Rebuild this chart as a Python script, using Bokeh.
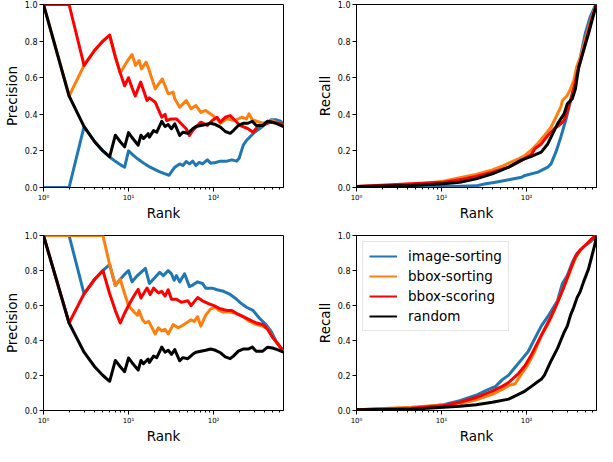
from bokeh.plotting import figure
from bokeh.models import Range1d, FixedTicker, PrintfTickFormatter, Legend, LegendItem
from bokeh.layouts import row, column
from bokeh.embed import file_html
from bokeh.resources import INLINE

# ---------------- data ----------------
XMAX = 665
series_names = ["image-sorting", "bbox-sorting", "bbox-scoring", "random"]
series_colors = ["#1f77b4", "#ff7f0e", "#ff0000", "#000000"]
x_major_ticks = [1, 10, 100]
x_tick_labels = ["10\u2070", "10\u00b9", "10\u00b2"]
x_minor_ticks = [2, 3, 4, 5, 6, 7, 8, 9, 20, 30, 40, 50, 60, 70, 80, 90, 200, 300, 400, 500, 600]
y_ticks = [0.0, 0.2, 0.4, 0.6, 0.8, 1.0]

# random baseline precision (same in both precision panels)
random_prec_rank = [1, 2, 3, 4, 5, 6, 7, 8, 9, 10, 11, 13, 14, 15, 17, 17.6, 19.7, 21.5, 24.6, 26.9, 29.3, 32, 35, 40,
                    43.6, 49.8, 56.9, 62.1, 70.9, 80.9, 92.4, 105.4, 120.4, 137.4, 156.8, 171.3, 195.6, 223.2, 254.7,
                    285.8, 317.6, 379, 432.5, 493.7, 563.6, 665]
random_prec = [1, .5, .333, .25, .2, .167, .286, .25, .222, .3, .273, .231, .286, .267, .294, .275, .311, .302, .362,
               .333, .344, .321, .348, .284, .302, .296, .321, .333, .339, .344, .351, .344, .33, .306, .296, .311,
               .339, .351, .351, .362, .339, .339, .362, .357, .348, .333]

# top-left: precision
tl_img_rank = [1, 2, 3, 4, 5, 6, 7, 8, 9, 10, 11, 12, 13, 14, 16, 18, 20, 23, 26, 30, 35, 40, 43.6, 47.7, 52.1, 56.9,
               62.1, 67.8, 74.1, 84.6, 92.4, 105.4, 120.4, 143.6, 163.9, 187.1, 200, 223.2, 243.8, 278.3, 304, 346.9,
               414, 472.5, 539.4, 615.7, 665]
tl_img_prec = [0, 0, .333, .25, .2, .167, .143, .125, .111, .2, .182, .167, .154, .143, .125, .111, .1, .087, .077,
               .067, .111, .129, .12, .142, .129, .144, .12, .137, .129, .151, .133, .137, .144, .144, .151, .144, .16,
               .23, .257, .284, .302, .321, .348, .37, .37, .362, .344]
tl_bsort_rank = [1, 2, 3, 4, 5, 6, 7, 8, 9, 10, 11, 12.1, 13.3, 14.2, 16.1, 17.3, 20.6, 25, 29.3, 33.5, 35, 40, 47.7,
                 54.4, 62.1, 70.9, 80.9, 92.4, 110.2, 120.4, 143.6, 179, 213.5, 243.8, 261.6, 285.8, 379, 493.7, 665]
tl_bsort_prec = [1, .5, .667, .75, .8, .833, .714, .625, .667, .7, .727, .667, .694, .648, .685, .648, .539, .593,
                 .512, .521, .485, .439, .475, .43, .448, .41, .421, .402, .375, .351, .375, .366, .384, .375, .402,
                 .37, .351, .366, .339]
tl_bscore_rank = [1, 2, 3, 4, 5, 6, 7, 8, 9, 10, 11, 12, 13.9, 16.5, 17.6, 20.6, 24.6, 26.9, 28.1, 32, 36.6, 41.8,
                  47.7, 52.1, 56.9, 64.9, 70.9, 84.6, 96.5, 110.2, 120.4, 137.4, 156.8, 179, 204.3, 254.7, 290.8, 332,
                  414, 472.5, 563.6, 665]
tl_bscore_prec = [1, 1, .667, .75, .8, .833, .714, .625, .556, .6, .545, .5, .576, .475, .49, .466, .384, .40, .366,
                  .375, .375, .348, .321, .284, .312, .339, .357, .339, .366, .384, .357, .384, .393, .366, .339, .321,
                  .302, .333, .348, .357, .351, .344]

# top-right: recall
tr_img_rank = [1, 3, 16.4, 25.5, 33.2, 43.3, 61.6, 87.7, 95.8, 136.3, 177.6, 194, 221.4, 252.7, 288.5, 329.3, 375.9,
               429.1, 489.8, 559, 638, 665]
tr_img_rec = [0, .004, .007, .009, .02, .029, .042, .056, .066, .084, .111, .129, .193, .275, .366, .475, .585, .712,
              .84, .931, .99, 1.0]
tr_bsort_rank = [1, 4.4, 10.55, 16.4, 25.5, 39.6, 51.6, 61.6, 80.3, 95.8, 114.2, 136.3, 162.6, 194, 221.4, 252.7,
                 264.1, 301.5, 329.3, 359.7, 392.9, 429.1, 512, 611, 665]
tr_bsort_rec = [.005, .015, .034, .053, .071, .096, .116, .133, .157, .175, .206, .242, .284, .33, .384, .439, .475,
                .503, .539, .585, .667, .712, .84, .958, 1.0]
tr_bscore_rank = [1, 4.4, 10.55, 16.4, 25.5, 39.6, 61.6, 87.7, 114.2, 124.8, 148.9, 177.6, 211.9, 252.7, 276, 301.5,
                  329.3, 359.7, 392.9, 429.1, 512, 611, 665]
tr_bscore_rec = [.005, .02, .029, .042, .06, .084, .111, .148, .181, .211, .238, .284, .321, .348, .366, .421, .475,
                 .539, .621, .685, .822, .95, 1.0]
tr_rand_rank = [1, 4.4, 10.55, 16.4, 25.5, 39.6, 61.6, 87.7, 114.2, 148.9, 177.6, 202.7, 231.4, 276, 301.5, 344.2,
                375.9, 410.6, 468.8, 535, 611, 665]
tr_rand_rec = [.005, .011, .02, .029, .047, .075, .111, .151, .17, .193, .238, .293, .348, .402, .457, .484, .539,
               .658, .749, .84, .94, 1.0]

# bottom-left: precision
bl_img_rank = [1, 2, 3, 4, 5, 6, 7, 8, 9, 10, 11, 12.7, 15.8, 17.6, 20.6, 23.3, 25.6, 29.3, 32, 34.4, 36.6, 40, 45.6,
               52.1, 56.9, 64.9, 74.1, 80.9, 96.5, 110, 131, 157, 187, 204, 244, 291, 347, 414, 472, 539, 640, 665]
bl_img_prec = [1, 1, .667, .75, .8, .833, .714, .75, .778, .8, .735, .771, .812, .726, .762, .79, .771, .799, .781,
               .744, .771, .735, .781, .708, .717, .735, .726, .699, .699, .69, .681, .663, .636, .618, .59, .572,
               .527, .491, .455, .4, .346, .34]
bl_bsort_rank = [1, 2, 3, 4, 5, 6, 7, 8, 9, 10, 11.6, 12.7, 13.3, 14.6, 15.8, 17.3, 20.6, 22.5, 24.6, 26.9, 29.3, 33.5,
                 38.3, 41.8, 47.7, 54.4, 59.4, 64.9, 70.9, 80.9, 92.4, 105.4, 115, 131, 157, 187, 223, 266, 318, 379,
                 432, 494, 665]
bl_bsort_prec = [1, 1, 1, 1, 1, .833, .714, .75, .667, .6, .563, .545, .572, .518, .5, .509, .437, .473, .455, .464,
                 .437, .491, .473, .482, .5, .518, .509, .536, .482, .545, .581, .59, .572, .563, .563, .554, .536,
                 .509, .491, .482, .468, .419, .34]
bl_bscore_rank = [1, 2, 3, 4, 5, 6, 7, 8, 9, 10, 11, 12, 13, 14, 16.5, 18, 19.7, 22.5, 24.6, 26.9, 29.3, 32, 36.6,
                  41.8, 49.8, 54.4, 64.9, 74.1, 88.5, 100.9, 120, 143.6, 164, 187, 223, 266, 318, 379, 432, 494, 564,
                  665]
bl_bscore_prec = [1, .5, .667, .75, .8, .667, .571, .5, .556, .6, .636, .667, .692, .643, .70, .663, .699, .672, .681,
                  .654, .69, .636, .636, .618, .627, .599, .645, .627, .609, .599, .581, .572, .572, .554, .536, .518,
                  .50, .491, .464, .419, .383, .34]

# bottom-right: recall
br_img_rank = [1, 4.4, 10.55, 16.4, 25.5, 33.2, 43.3, 51.6, 61.6, 73.5, 87.7, 104.6, 124.8, 148.9, 177.6, 202.7,
               231.4, 264.1, 301.5, 344.2, 392.9, 468.8, 559, 665]
br_img_rec = [.004, .013, .033, .056, .087, .114, .138, .175, .202, .247, .292, .337, .41, .482, .536, .581, .627,
              .726, .771, .844, .898, .935, .962, 1.0]
br_bsort_rank = [1, 4.4, 16.4, 25.5, 39.6, 51.6, 61.6, 73.5, 87.7, 104.6, 124.8, 148.9, 177.6, 211.9, 252.7, 301.5,
                 344.2, 375.9, 429.1, 512, 611, 665]
br_bsort_rec = [.004, .018, .038, .061, .092, .12, .142, .153, .211, .265, .337, .428, .491, .572, .663, .753, .826,
                .871, .917, .953, .989, 1.0]
br_bscore_rank = [1, 4.4, 10.55, 16.4, 25.5, 39.6, 51.6, 61.6, 80.3, 95.8, 114.2, 136.3, 162.6, 194, 231.4, 276,
                  329.3, 375.9, 429.1, 512, 611, 665]
br_bscore_rec = [.004, .013, .029, .047, .074, .111, .138, .16, .211, .256, .319, .392, .464, .536, .618, .708, .808,
                 .88, .917, .953, .989, 1.0]
br_rand_rank = [1, 4.4, 10.55, 16.4, 25.5, 39.6, 61.6, 80.3, 95.8, 114.2, 136.3, 148.9, 162.6, 194, 231.4, 276,
                301.5, 329.3, 359.7, 392.9, 429.1, 468.8, 535, 585, 640, 665]
br_rand_rec = [.004, .007, .018, .024, .033, .047, .065, .092, .111, .138, .166, .178, .202, .283, .355, .446, .482,
               .545, .591, .645, .681, .735, .808, .88, .953, 1.0]

FONT = "DejaVu Sans"


def make_fig(width, height, mbl, mbr, mbt, mbb, ylabel):
    p = figure(width=width, height=height, x_axis_type="log",
               x_range=Range1d(1, XMAX), y_range=Range1d(0, 1),
               output_backend="svg", toolbar_location=None,
               min_border_left=mbl, min_border_right=mbr,
               min_border_top=mbt, min_border_bottom=mbb)
    p.grid.visible = False
    p.background_fill_color = "white"
    p.border_fill_color = "white"
    p.outline_line_color = "black"
    p.outline_line_width = 1
    p.outline_line_alpha = 1

    xa = p.xaxis[0]
    xa.ticker = FixedTicker(ticks=x_major_ticks, minor_ticks=x_minor_ticks)
    xa.major_label_overrides = {t: lab for t, lab in zip(x_major_ticks, x_tick_labels)}
    xa.major_label_text_font_size = "7px"
    xa.major_label_text_font = FONT
    xa.major_label_text_color = "black"
    xa.major_label_standoff = 2
    xa.major_tick_out = 4
    xa.major_tick_in = 0
    xa.minor_tick_out = 2
    xa.minor_tick_in = 0
    xa.axis_line_color = "black"
    xa.major_tick_line_color = "black"
    xa.minor_tick_line_color = "black"
    xa.axis_label = "Rank"
    xa.axis_label_text_font = FONT
    xa.axis_label_text_font_size = "13.5px"
    xa.axis_label_text_font_style = "normal"
    xa.axis_label_text_color = "black"
    xa.axis_label_standoff = 0

    ya = p.yaxis[0]
    ya.ticker = FixedTicker(ticks=y_ticks)
    ya.formatter = PrintfTickFormatter(format="%.1f")
    ya.major_label_text_font_size = "8px"
    ya.major_label_text_font = FONT
    ya.major_label_text_color = "black"
    ya.major_label_standoff = 2
    ya.major_tick_out = 4
    ya.major_tick_in = 0
    ya.minor_tick_line_color = None
    ya.axis_line_color = "black"
    ya.major_tick_line_color = "black"
    ya.axis_label = ylabel
    ya.axis_label_text_font = FONT
    ya.axis_label_text_font_size = "13.5px"
    ya.axis_label_text_font_style = "normal"
    ya.axis_label_text_color = "black"
    ya.axis_label_standoff = 2
    return p


def draw(p, ranks, values):
    rends = []
    for r, v, c in zip(ranks, values, series_colors):
        rends.append(p.line(r, v, line_color=c, line_width=3, line_join="round"))
    return rends


W_L, W_R = 313, 284
H_T, H_B = 4 + 183 + 36, 12 + 179 + 32

tl = make_fig(W_L, H_T, 38, 30, 4, 36, "Precision")
draw(tl, [tl_img_rank, tl_bsort_rank, tl_bscore_rank, random_prec_rank],
     [tl_img_prec, tl_bsort_prec, tl_bscore_prec, random_prec])

tr = make_fig(W_R, H_T, 38, 1, 4, 36, "Recall")
draw(tr, [tr_img_rank, tr_bsort_rank, tr_bscore_rank, tr_rand_rank],
     [tr_img_rec, tr_bsort_rec, tr_bscore_rec, tr_rand_rec])

bl = make_fig(W_L, H_B, 38, 30, 12, 32, "Precision")
draw(bl, [bl_img_rank, bl_bsort_rank, bl_bscore_rank, random_prec_rank],
     [bl_img_prec, bl_bsort_prec, bl_bscore_prec, random_prec])

br = make_fig(W_R, H_B, 38, 1, 12, 32, "Recall")
draw(br, [br_img_rank, br_bsort_rank, br_bscore_rank, br_rand_rank],
     [br_img_rec, br_bsort_rec, br_bscore_rec, br_rand_rec])

# legend with thinner sample lines (samples drawn out of view, below y=0)
legend_items = []
for name, c in zip(series_names, series_colors):
    dummy = br.line([1, 2], [-5, -5], line_color=c, line_width=2)
    legend_items.append(LegendItem(label=name, renderers=[dummy]))
legend = Legend(items=legend_items, location="top_left",
                label_text_font=FONT, label_text_font_size="13.5px", label_text_color="black",
                glyph_width=28, glyph_height=16, label_height=16, label_standoff=11,
                spacing=4, padding=6, margin=6,
                border_line_color="#cccccc", border_line_width=1,
                background_fill_color="white", background_fill_alpha=0.8)
br.add_layout(legend)

layout = column(row(tl, tr), row(bl, br))
open("out.html", "w").write(file_html(layout, INLINE))
